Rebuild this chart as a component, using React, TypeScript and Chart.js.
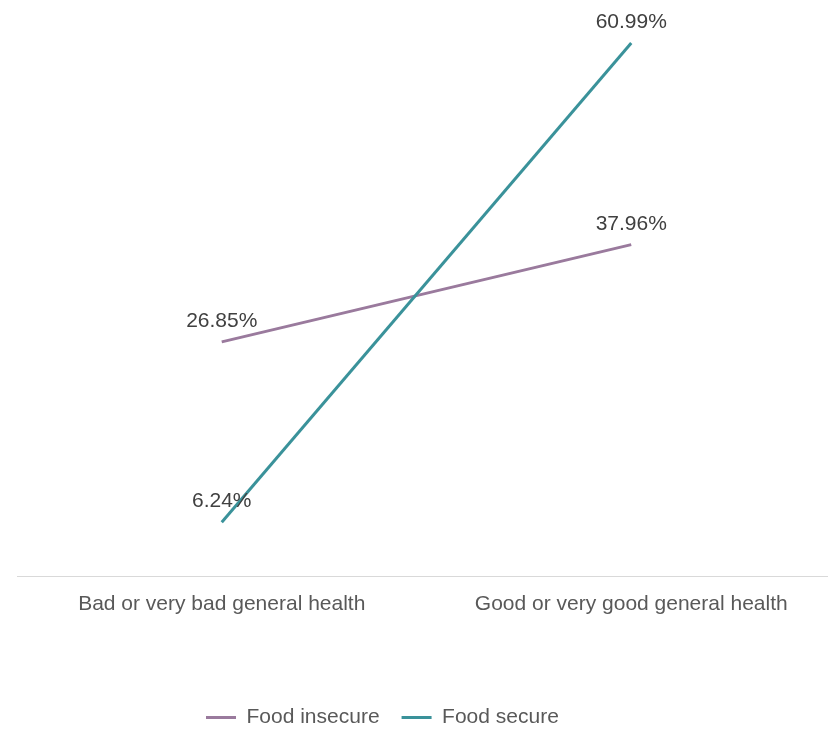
import React, { useEffect, useRef } from "react";
import { Chart, registerables } from "chart.js";

Chart.register(...registerables);

const categories = ["Bad or very bad general health", "Good or very good general health"];
const seriesNames = ["Food insecure", "Food secure"];
const foodInsecure = [26.85, 37.96];
const foodSecure = [6.24, 60.99];

const FONT = "'Liberation Sans', Arial, Helvetica, sans-serif";
const PURPLE = "#9a7a9d";
const TEAL = "#3a929a";

// Writes each point's value as a percentage just above the point.
const valueLabels = {
  id: "valueLabels",
  afterDatasetsDraw(chart: any) {
    const ctx = chart.ctx;
    ctx.save();
    ctx.font = `21px ${FONT}`;
    ctx.fillStyle = "#404040";
    ctx.textAlign = "center";
    ctx.textBaseline = "alphabetic";
    chart.data.datasets.forEach((ds: any, i: number) => {
      const meta = chart.getDatasetMeta(i);
      meta.data.forEach((pt: any, j: number) => {
        const v = ds.data[j] as number;
        ctx.fillText(v.toFixed(2) + "%", pt.x, pt.y - 15);
      });
    });
    ctx.restore();
  },
};

// Places the legend block under the left part of the plot.
const legendPlacement = {
  id: "legendPlacement",
  afterLayout(chart: any) {
    const lg = chart.legend;
    if (!lg) return;
    const w = lg.right - lg.left;
    const h = lg.bottom - lg.top;
    lg.left = 184;
    lg.right = lg.left + w;
    lg.top = 685;
    lg.bottom = lg.top + h;
  },
};

export default function App() {
  const canvasRef = useRef<HTMLCanvasElement | null>(null);

  useEffect(() => {
    const canvas = canvasRef.current;
    if (!canvas) return;
    const chart = new Chart(canvas, {
      type: "line",
      data: {
        labels: categories,
        datasets: [
          {
            label: seriesNames[0],
            data: foodInsecure,
            borderColor: PURPLE,
            backgroundColor: PURPLE,
            borderWidth: 3,
            pointRadius: 0,
            pointHoverRadius: 0,
            pointStyle: "line",
            order: 1,
          },
          {
            label: seriesNames[1],
            data: foodSecure,
            borderColor: TEAL,
            backgroundColor: TEAL,
            borderWidth: 3,
            pointRadius: 0,
            pointHoverRadius: 0,
            pointStyle: "line",
            order: 0,
          },
        ],
      },
      options: {
        responsive: false,
        animation: false,
        devicePixelRatio: 1,
        layout: { padding: { left: 17, right: 14, top: 8, bottom: 44 } },
        scales: {
          x: {
            offset: true,
            grid: { display: false, drawTicks: false, tickLength: 0 },
            border: { display: true, color: "#d9d9d9", width: 1 },
            ticks: {
              color: "#595959",
              font: { family: FONT, size: 21 },
              padding: 15,
              maxRotation: 0,
              autoSkip: false,
            },
          },
          y: {
            display: false,
            min: 0,
            max: 65,
          },
        },
        plugins: {
          tooltip: { enabled: false },
          legend: {
            position: "bottom",
            align: "start",
            labels: {
              usePointStyle: true,
              pointStyle: "line",
              pointStyleWidth: 30,
              boxWidth: 30,
              padding: 22,
              color: "#595959",
              font: { family: FONT, size: 21 },
              sort: (a: any, b: any) => a.datasetIndex - b.datasetIndex,
            },
          },
        },
      },
      plugins: [valueLabels, legendPlacement],
    });
    return () => chart.destroy();
  }, []);

  return (
    <div
      style={{
        position: "absolute",
        left: 0,
        top: 0,
        width: 828,
        height: 729,
        overflow: "hidden",
        background: "#ffffff",
      }}
    >
      <canvas ref={canvasRef} width={850} height={729} style={{ display: "block" }} />
    </div>
  );
}
